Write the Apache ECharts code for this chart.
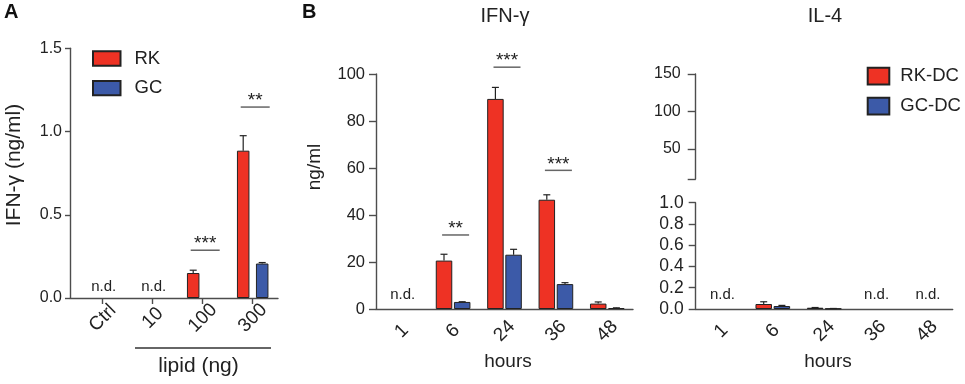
<!DOCTYPE html>
<html>
<head>
<meta charset="utf-8">
<script src="https://cdn.jsdelivr.net/npm/echarts@6/dist/echarts.min.js"></script>
<style>
  html, body { margin: 0; padding: 0; background: #fff; }
  #chart { width: 965px; height: 384px; }
</style>
</head>
<body>
<div id="chart"></div>
<script>
// panel A: IFN-g vs lipid dose
var lipidCats = ['Ctrl', '10', '100', '300'];
var rkLipid = [null, null, 0.15, 0.885];
var rkLipidTop = [null, null, 0.167, 0.975];
var gcLipid = [null, null, null, 0.207];
var gcLipidTop = [null, null, null, 0.213];
var lipidND = ['Ctrl', '10'];
var lipidSig = [['100', 0.287, '***'], ['300', 1.147, '**']];

// panel B: time course
var hourCats = ['1', '6', '24', '36', '48'];
var rkIfn = [null, 20.6, 89.4, 46.5, 2.3];
var rkIfnTop = [null, 23.3, 94.3, 48.6, 3.0];
var gcIfn = [null, 3.0, 23.1, 10.6, 0.4];
var gcIfnTop = [null, 3.1, 25.4, 11.2, 0.5];
var ifnND = ['1'];
var ifnSig = [['6', 31.5, '**'], ['24', 102.9, '***'], ['36', 59, '***']];

var rkIl4 = [null, 0.047, 0.012, null, null];
var rkIl4Top = [null, 0.068, 0.014, null, null];
var gcIl4 = [null, 0.028, 0.004, null, null];
var gcIl4Top = [null, 0.034, 0.005, null, null];
var il4ND = ['1', '36', '48'];

var RED = '#ee3224', BLUE = '#3c5aa8', INK = '#222', AXIS = '#4d4d4d';
var FONT = 'Liberation Sans';

var chart = echarts.init(document.getElementById('chart'));

function idx(cats, c) { return cats.indexOf(c); }

function barData(vals) {
  var out = [];
  vals.forEach(function (v, i) { if (v != null) out.push([i, v]); });
  return out;
}

function errSeries(xi, yi, vals, tops, dx) {
  var data = [];
  vals.forEach(function (v, i) { if (v != null && tops[i] != null) data.push([i, v, tops[i]]); });
  return {
    type: 'custom', xAxisIndex: xi, yAxisIndex: yi, silent: true, z: 3,
    encode: { x: 0, y: [1, 2] },
    data: data,
    renderItem: function (params, api) {
      var p0 = api.coord([api.value(0), api.value(1)]);
      var p1 = api.coord([api.value(0), api.value(2)]);
      var x = p0[0] + dx;
      return {
        type: 'group', children: [
          { type: 'line', shape: { x1: x, y1: p0[1], x2: x, y2: p1[1] }, style: { stroke: INK, lineWidth: 1.2 } },
          { type: 'line', shape: { x1: x - 3.5, y1: p1[1], x2: x + 3.5, y2: p1[1] }, style: { stroke: INK, lineWidth: 1.2 } }
        ]
      };
    }
  };
}

function ndSeries(xi, yi, cats, list, dy) {
  return {
    type: 'custom', xAxisIndex: xi, yAxisIndex: yi, silent: true,
    data: list.map(function (c) { return [idx(cats, c), 0]; }),
    encode: { x: 0, y: 1 },
    renderItem: function (params, api) {
      var p = api.coord([api.value(0), 0]);
      return {
        type: 'text',
        style: { text: 'n.d.', x: p[0] + 1, y: p[1] - dy, align: 'center', verticalAlign: 'middle',
          fontSize: 15, fontFamily: FONT, fill: INK }
      };
    }
  };
}

function sigSeries(xi, yi, cats, list, half) {
  return {
    type: 'custom', xAxisIndex: xi, yAxisIndex: yi, silent: true, clip: false,
    data: list.map(function (s) { return [idx(cats, s[0]), s[1]]; }),
    encode: { x: 0, y: 1 },
    renderItem: function (params, api) {
      var p = api.coord([api.value(0), api.value(1)]);
      var cx = p[0] + 2.5;
      return {
        type: 'group', children: [
          { type: 'line', shape: { x1: cx - half, y1: p[1], x2: cx + half, y2: p[1] }, style: { stroke: '#666', lineWidth: 1.5 } },
          { type: 'text', style: { text: list[params.dataIndex][2], x: cx, y: p[1] - 6, align: 'center', verticalAlign: 'middle',
            fontSize: 19, fontFamily: FONT, fill: INK } }
        ]
      };
    }
  };
}

var axisLine = { onZero: false, lineStyle: { color: AXIS, width: 1.4 } };
var tickLine = { color: AXIS, width: 1.4 };
function ylab(size, margin, fmt) {
  var o = { color: INK, fontSize: size, fontFamily: FONT, margin: margin };
  if (fmt) o.formatter = function (v) { return v.toFixed(1); };
  return o;
}
function xlab(margin) {
  return { color: INK, fontSize: 19, fontFamily: FONT, rotate: 45, align: 'center', verticalAlign: 'middle', margin: margin };
}

function barStyle(c) { return { color: c, borderColor: INK, borderWidth: 1 }; }

var option = {
  animation: false,
  textStyle: { fontFamily: FONT },
  grid: [
    { left: 70, top: 48.3, width: 208, height: 249.7 },
    { left: 376, top: 74, width: 257, height: 235 },
    { left: 695.7, top: 74, width: 257, height: 105 },
    { left: 695.7, top: 202.7, width: 257, height: 106.3 }
  ],
  xAxis: [
    { type: 'value', gridIndex: 0, min: -0.654, max: 3.506, splitLine: { show: false },
      axisLine: axisLine, axisTick: { show: true, length: 6, lineStyle: tickLine, customValues: [0, 1, 2, 3] },
      axisLabel: Object.assign(xlab(20), { customValues: [0, 1, 2, 3],
        formatter: function (v) { return lipidCats[Math.round(v)]; } }) },
    { type: 'category', gridIndex: 1, data: hourCats, axisLine: axisLine,
      axisTick: { alignWithLabel: true, length: 7, lineStyle: tickLine }, axisLabel: xlab(22) },
    { type: 'category', gridIndex: 2, data: hourCats, show: false },
    { type: 'category', gridIndex: 3, data: hourCats, axisLine: axisLine,
      axisTick: { alignWithLabel: true, length: 7, lineStyle: tickLine }, axisLabel: xlab(22) }
  ],
  yAxis: [
    { type: 'value', gridIndex: 0, min: 0, max: 1.5, interval: 0.5, splitLine: { show: false },
      axisLine: Object.assign({ show: true }, axisLine), axisTick: { show: true, length: 5, lineStyle: tickLine },
      axisLabel: ylab(16, 8, true) },
    { type: 'value', gridIndex: 1, min: 0, max: 100, interval: 20, splitLine: { show: false },
      axisLine: Object.assign({ show: true }, axisLine), axisTick: { show: true, length: 7, lineStyle: tickLine },
      axisLabel: ylab(16.5, 11) },
    { type: 'value', gridIndex: 2, min: 10, max: 150, splitLine: { show: false },
      axisLine: Object.assign({ show: true }, axisLine),
      axisTick: { show: true, length: 8, lineStyle: tickLine, customValues: [10, 50, 100, 150] },
      axisLabel: Object.assign(ylab(16, 15), { customValues: [50, 100, 150] }) },
    { type: 'value', gridIndex: 3, min: 0, max: 1, interval: 0.2, splitLine: { show: false },
      axisLine: Object.assign({ show: true }, axisLine), axisTick: { show: true, length: 7, lineStyle: tickLine },
      axisLabel: ylab(17.5, 12, true) }
  ],
  legend: [
    { data: ['RK', 'GC'], orient: 'vertical', left: 92, top: 49, padding: 0, icon: 'rect',
      itemWidth: 27.5, itemHeight: 14.3, itemGap: 10.7, selectedMode: false,
      textStyle: { fontSize: 18.5, fontFamily: FONT, color: INK, lineHeight: 14.3, padding: [0, 0, 0, 9] } },
    { data: ['RK-DC', 'GC-DC'], orient: 'vertical', left: 866.7, top: 66.7, padding: 0, icon: 'rect',
      itemWidth: 21.6, itemHeight: 16.7, itemGap: 11, selectedMode: false,
      textStyle: { fontSize: 18.5, fontFamily: FONT, color: INK, lineHeight: 16.7, padding: [0, 0, 0, 6] } }
  ],
  series: [
    { name: 'RK', type: 'bar', xAxisIndex: 0, yAxisIndex: 0, barWidth: 12.5, barGap: '52%',
      itemStyle: barStyle(RED), data: barData(rkLipid) },
    { name: 'GC', type: 'bar', xAxisIndex: 0, yAxisIndex: 0, barWidth: 12.5, barGap: '52%',
      itemStyle: barStyle(BLUE), data: barData(gcLipid) },
    errSeries(0, 0, rkLipid, rkLipidTop, -9.5),
    errSeries(0, 0, gcLipid, gcLipidTop, 9.5),
    ndSeries(0, 0, lipidCats, lipidND, 11),
    sigSeries(0, 0, lipidCats, lipidSig, 14.5),

    { name: 'RK-DC', type: 'bar', xAxisIndex: 1, yAxisIndex: 1, barWidth: 16.5, barGap: '10%',
      itemStyle: barStyle(RED), data: rkIfn.map(function (v) { return v == null ? '-' : v; }) },
    { name: 'GC-DC', type: 'bar', xAxisIndex: 1, yAxisIndex: 1, barWidth: 16.5, barGap: '10%',
      itemStyle: barStyle(BLUE), data: gcIfn.map(function (v) { return v == null ? '-' : v; }) },
    errSeries(1, 1, rkIfn, rkIfnTop, -9.1),
    errSeries(1, 1, gcIfn, gcIfnTop, 9.1),
    ndSeries(1, 1, hourCats, ifnND, 14),
    sigSeries(1, 1, hourCats, ifnSig, 13.5),

    { name: 'RK-DC', type: 'bar', xAxisIndex: 3, yAxisIndex: 3, barWidth: 16.5, barGap: '10%',
      itemStyle: barStyle(RED), data: rkIl4.map(function (v) { return v == null ? '-' : v; }) },
    { name: 'GC-DC', type: 'bar', xAxisIndex: 3, yAxisIndex: 3, barWidth: 16.5, barGap: '10%',
      itemStyle: barStyle(BLUE), data: gcIl4.map(function (v) { return v == null ? '-' : v; }) },
    errSeries(3, 3, rkIl4, rkIl4Top, -9.1),
    errSeries(3, 3, gcIl4, gcIl4Top, 9.1),
    ndSeries(3, 3, hourCats, il4ND, 14)
  ],
  graphic: [
    { type: 'text', left: 4, top: 2, style: { text: 'A', font: 'bold 20px ' + FONT, fill: '#111' } },
    { type: 'text', left: 302, top: 2, style: { text: 'B', font: 'bold 20px ' + FONT, fill: '#111' } },
    { type: 'text', x: 505, y: 16, style: { text: 'IFN-γ', align: 'center', verticalAlign: 'middle', font: '20px ' + FONT, fill: INK } },
    { type: 'text', x: 825, y: 16, style: { text: 'IL-4', align: 'center', verticalAlign: 'middle', font: '20px ' + FONT, fill: INK } },
    { type: 'text', x: 14, y: 165, rotation: Math.PI / 2,
      style: { text: 'IFN-γ (ng/ml)', align: 'center', verticalAlign: 'middle', font: '21px ' + FONT, fill: INK } },
    { type: 'text', x: 314.5, y: 167, rotation: Math.PI / 2,
      style: { text: 'ng/ml', align: 'center', verticalAlign: 'middle', font: '19px ' + FONT, fill: INK } },
    { type: 'line', shape: { x1: 135, y1: 348, x2: 271, y2: 348 }, style: { stroke: '#666', lineWidth: 2 } },
    { type: 'text', x: 198.5, y: 366, style: { text: 'lipid (ng)', align: 'center', verticalAlign: 'middle', font: '21px ' + FONT, fill: INK } },
    { type: 'text', x: 508, y: 362, style: { text: 'hours', align: 'center', verticalAlign: 'middle', font: '19px ' + FONT, fill: INK } },
    { type: 'text', x: 828, y: 362, style: { text: 'hours', align: 'center', verticalAlign: 'middle', font: '19px ' + FONT, fill: INK } }
  ]
};

chart.setOption(option);
</script>
</body>
</html>
